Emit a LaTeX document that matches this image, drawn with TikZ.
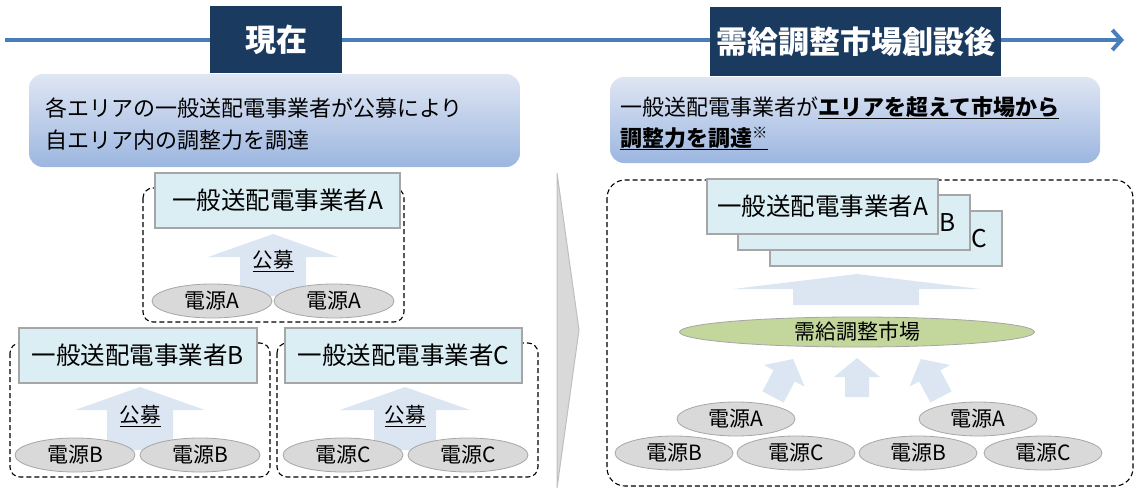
\documentclass[tikz,border=0pt]{standalone}
\usepackage{fontspec}
\setmainfont{Noto Sans CJK JP}
\usetikzlibrary{arrows.meta,shapes.geometric}
\definecolor{navy}{HTML}{1B3A60}
\definecolor{lineblue}{HTML}{4A7EBB}
\definecolor{boxfill}{HTML}{DBEEF4}
\definecolor{boxline}{HTML}{A6A6A6}
\definecolor{arrfill}{HTML}{DCE6F2}
\definecolor{ellfill}{HTML}{D9D9D9}
\definecolor{mktfill}{HTML}{C3D69B}
\definecolor{gradtop}{HTML}{DFE6F3}
\definecolor{gradbot}{HTML}{9CB6E0}
\definecolor{chevline}{HTML}{BFBFBF}
\newcommand\myul[2][1.6pt]{\sbox0{#2}\rlap{\usebox0}\rule[-4pt]{\wd0}{#1}}
% x, y, rotation, length, head length, head half width, shaft half width
\newcommand\blockarrow[7]{%
  \fill[arrfill,shift={(#1,#2)},rotate=#3] (-#7,0) -- (-#7,{-(#4-#5)}) -- (-#6,{-(#4-#5)}) -- (0,-#4) -- (#6,{-(#4-#5)}) -- (#7,{-(#4-#5)}) -- (#7,0) -- cycle;}
\tikzset{
  titlebox/.style={fill=navy, text=white, font=\fontsize{31}{32}\selectfont\bfseries, inner sep=0},
  infobox/.style={rounded corners=14pt, top color=gradtop, bottom color=gradbot, inner sep=0},
  infotext/.style={anchor=west, inner sep=0, font=\fontsize{22}{24}\selectfont},
  opbox/.style={draw=boxline, line width=1.3pt, fill=boxfill, inner sep=0, minimum height=55pt, font=\fontsize{24.5}{26}\selectfont},
  gen/.style={ellipse, draw=boxline, line width=0.8pt, fill=ellfill, minimum width=120pt, minimum height=34pt, inner sep=0, font=\fontsize{21}{22}\selectfont},
  dashbox/.style={draw=black, line width=1.1pt, dash pattern=on 5pt off 3pt, rounded corners=10pt},
  koubo/.style={inner sep=0, font=\fontsize{20.5}{22}\selectfont},
}
\begin{document}
\begin{tikzpicture}[x=1pt,y=-1pt]
\useasboundingbox (0,0) rectangle (1136,490);
% timeline
\coordinate (l0) at (5,40);
\coordinate (l1) at (1124,40);
\draw[lineblue, line width=4pt, -{Straight Barb[length=9pt,width=20pt]}] (l0) -- (l1);
\node[titlebox, minimum width=132pt, minimum height=67pt] (t1) at (276,39.5) {現在};
\node[titlebox, minimum width=291pt, minimum height=69pt] (t2) at (855.5,41.5) {需給調整市場創設後};
% info boxes
\node[infobox, minimum width=491pt, minimum height=93pt] (i1) at (274.5,120.5) {};
\node[infotext] (i1a) at (45,108) {各エリアの一般送配電事業者が公募により};
\node[infotext] (i1b) at (45,140) {自エリア内の調整力を調達};
\node[infobox, minimum width=490pt, minimum height=86pt] (i2) at (855,120) {};
\node[infotext] (i2a) at (620,108) {一般送配電事業者が\myul{\textbf{エリアを超えて市場から}}};
\node[infotext] (i2b) at (620,139) {\myul{\textbf{調整力を調達}\textsuperscript{※}}};
% divider
\draw[chevline, fill=ellfill, line width=1pt] (557,173) -- (579,330) -- (557,488) -- cycle;
% ---- left: group A
\draw[dashbox] (143,188) rectangle (404,322);
\node[opbox, minimum width=245pt] (oA) at (277.5,200.5) {一般送配電事業者A};
\blockarrow{273}{296}{0}{62}{23}{65}{33}
\node[koubo] (kA) at (273,261) {\myul[1pt]{公募}};
\node[gen] (gA1) at (212,301) {電源A};
\node[gen] (gA2) at (334,301) {電源A};
% ---- group B
\draw[dashbox] (10,343) rectangle (270,477);
\node[opbox, minimum width=238pt] (oB) at (138,355.5) {一般送配電事業者B};
\blockarrow{140}{450}{0}{63}{23}{65}{33}
\node[koubo] (kB) at (140,416) {\myul[1pt]{公募}};
\node[gen] (gB1) at (75,455) {電源B};
\node[gen] (gB2) at (200,455) {電源B};
% ---- group C
\draw[dashbox] (277,343) rectangle (538,477);
\node[opbox, minimum width=237pt] (oC) at (403.5,355.5) {一般送配電事業者C};
\blockarrow{405}{450}{0}{63}{23}{65}{31}
\node[koubo] (kC) at (405,416) {\myul[1pt]{公募}};
\node[gen] (gC1) at (343,455) {電源C};
\node[gen] (gC2) at (468,455) {電源C};
% ---- right
\draw[dashbox, rounded corners=18pt] (607,180) rectangle (1133,486);
\node[opbox, minimum width=232pt] (sC) at (886,238.5) {};
\node[opbox, minimum width=232pt] (sB) at (854,222.5) {};
\node[opbox, minimum width=231pt] (sA) at (822.5,206.5) {一般送配電事業者A};
\node[inner sep=0, anchor=east, font=\fontsize{24.5}{26}\selectfont] (lB) at ([xshift=-15pt]sB.east) {B};
\node[inner sep=0, anchor=east, font=\fontsize{24.5}{26}\selectfont] (lC) at ([xshift=-15pt]sC.east) {C};
\fill[arrfill] (793,305) -- (793,289) -- (733,289) -- (857,274) -- (980,289) -- (919,289) -- (919,305) -- cycle;
\node[ellipse, draw=boxline, line width=0.8pt, fill=mktfill, minimum width=355pt, minimum height=30pt, inner sep=0, font=\fontsize{21}{22}\selectfont] (mkt) at (857,332) {需給調整市場};
\blockarrow{773}{397}{-28}{43}{19}{23}{12}
\blockarrow{857}{397}{0}{39}{19}{23}{12}
\blockarrow{941}{397}{28}{43}{19}{23}{12}
\node[gen, minimum width=118pt] (rA1) at (736,419) {電源A};
\node[gen, minimum width=118pt] (rA2) at (978,419) {電源A};
\node[gen, minimum width=118pt] (rB1) at (674,453) {電源B};
\node[gen, minimum width=118pt] (rC1) at (796,453) {電源C};
\node[gen, minimum width=118pt] (rB2) at (918,453) {電源B};
\node[gen, minimum width=118pt] (rC2) at (1043,453) {電源C};
\end{tikzpicture}
\end{document}
